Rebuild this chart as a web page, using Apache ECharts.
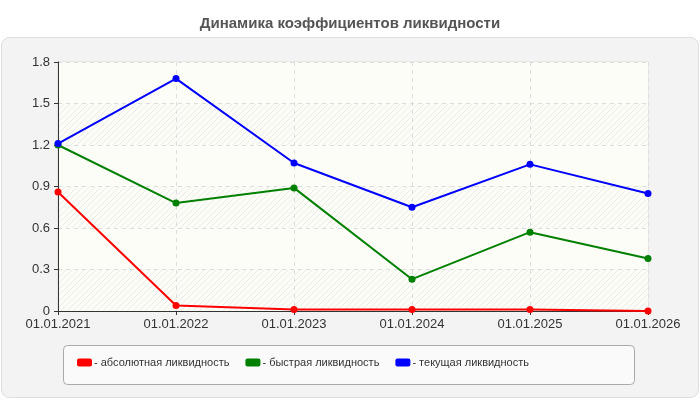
<!DOCTYPE html>
<html><head><meta charset="utf-8">
<script src="https://cdn.jsdelivr.net/npm/echarts@6/dist/echarts.min.js"></script>
<style>html,body{margin:0;padding:0;background:#fff}#c{width:700px;height:400px}</style>
</head><body><div id="c"></div>
<script>
const categories = ['01.01.2021','01.01.2022','01.01.2023','01.01.2024','01.01.2025','01.01.2026'];
const absoluteLiq = [0.86, 0.04, 0.01, 0.01, 0.01, 0.0];
const quickLiq = [1.2, 0.78, 0.89, 0.23, 0.57, 0.38];
const currentLiq = [1.21, 1.68, 1.07, 0.75, 1.06, 0.85];
const seriesNames = ['абсолютная ликвидность','быстрая ликвидность','текущая ликвидность'];
const titleText = 'Динамика коэффициентов ликвидности';

const pc = document.createElement('canvas');
pc.width = 6; pc.height = 6;
const g = pc.getContext('2d');
g.fillStyle = '#fdfdf8'; g.fillRect(0,0,6,6);
g.strokeStyle = '#ebebeb'; g.lineWidth = 1;
g.beginPath(); g.moveTo(0,6); g.lineTo(6,0); g.moveTo(-3,3); g.lineTo(3,-3); g.moveTo(3,9); g.lineTo(9,3); g.stroke();
const hatch = {image: pc, repeat: 'repeat'};

const font = 'Liberation Sans, Arial, sans-serif';
const chart = echarts.init(document.getElementById('c'), null, {renderer:'canvas'});
function mk(name, data, color){
  return {name, type:'line', data, symbol:'circle', symbolSize:7,
    lineStyle:{color, width:2}, itemStyle:{color}, color};
}
chart.setOption({
  animation:false,
  textStyle:{fontFamily:font},
  title:{text:titleText, left:'center', top:11, textStyle:{fontSize:15, fontWeight:'bold', color:'#555', fontFamily:font}},
  graphic:[
    {type:'rect', left:1, top:37, z:-10, shape:{width:697, height:360, r:8}, style:{fill:'#f3f3f3', stroke:'#dedede', lineWidth:1}},
    {type:'rect', left:63, top:345, z:-5, shape:{width:571, height:39, r:4}, style:{fill:'#fafafa', stroke:'#aaaaaa', lineWidth:1}}
  ],
  legend:{left:72, top:352, itemWidth:15, itemHeight:8, itemGap:16, icon:'roundRect',
    data:seriesNames, formatter: n => '- ' + n,
    textStyle:{fontSize:11, color:'#333', fontFamily:font, padding:[0,0,0,-3]}},
  grid:{left:58, right:52, top:62, bottom:89, show:true, borderColor:'#dddddd', borderWidth:1, backgroundColor:'transparent'},
  xAxis:{type:'category', data:categories, boundaryGap:false,
    axisLine:{lineStyle:{color:'#333', width:1}},
    axisTick:{show:true, length:4, lineStyle:{color:'#333'}},
    axisLabel:{fontSize:13, color:'#333', margin:7, fontFamily:font},
    splitLine:{show:true, lineStyle:{color:'#dddddd', type:[4,4]}}},
  yAxis:{type:'value', min:0, max:1.8, interval:0.3,
    axisLine:{show:true, lineStyle:{color:'#333', width:1}},
    axisTick:{show:true, length:4, lineStyle:{color:'#333'}},
    axisLabel:{fontSize:13, color:'#333', margin:8, fontFamily:font},
    splitLine:{show:true, lineStyle:{color:'#dddddd', type:[4,4]}},
    splitArea:{show:true, areaStyle:{color:[hatch, '#fdfdf8']}}},
  series:[
    mk(seriesNames[0], absoluteLiq, '#ff0000'),
    mk(seriesNames[1], quickLiq, '#008000'),
    mk(seriesNames[2], currentLiq, '#0000ff')
  ]
});
</script></body></html>
